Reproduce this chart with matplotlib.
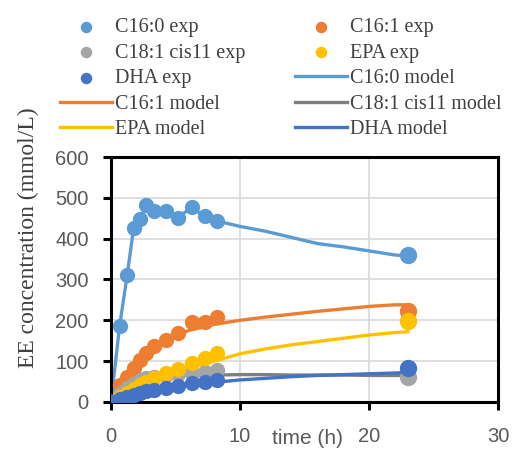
import numpy as np
import matplotlib
matplotlib.use('Agg')
from matplotlib import pyplot as plt

# experimental sampling times (h)
t_exp = [0, 0.67, 1.25, 1.75, 2.25, 2.75, 3.33, 4.25, 5.17, 6.25, 7.25, 8.25, 23]
c160_exp = [0, 187, 310, 425, 448, 483, 468, 468, 450, 478, 455, 443, 360]
c161_exp = [0, 42, 62, 84, 103, 121, 136, 153, 170, 195, 197, 207, 224]
c181_exp = [0, 20, 35, 45, 55, 58, 62, 65, 68, 70, 74, 78, 62]
epa_exp = [0, 12, 22, 32, 42, 50, 58, 70, 80, 95, 108, 120, 198]
dha_exp = [0, 8, 13, 18, 22, 26, 30, 34, 38, 46, 49, 54, 84]

# model curves
t_c160 = [0, 0.67, 1.25, 1.75, 2.25, 2.75, 3.33, 4.25, 5.17, 6.25, 7.25, 8.25,
          10, 12, 14, 16, 18, 20, 22, 23]
c160_mod = [0, 187, 310, 425, 448, 480, 470, 468, 452, 476, 455, 443,
            430, 418, 403, 388, 380, 370, 360, 358]
t_mod = [0, 1, 2, 3, 4, 5, 6, 8, 10, 12, 14, 16, 18, 20, 22, 23]
c161_mod = [0, 50, 90, 120, 145, 162, 175, 190, 200, 208, 215, 222, 228, 234, 238, 238]
c181_mod = [0, 40, 55, 60, 63, 64, 65, 66, 67, 67, 66, 66, 66, 65, 65, 65]
epa_mod = [0, 20, 38, 52, 65, 75, 84, 100, 118, 130, 140, 148, 156, 164, 170, 172]
dha_mod = [0, 12, 20, 27, 32, 37, 41, 48, 54, 58, 62, 65, 67, 69, 71, 72]

c_blue = '#5B9BD5'
c_orange = '#ED7D31'
c_grey = '#A5A5A5'
c_gold = '#FFC000'
c_dblue = '#4472C4'
c_dgrey = '#7F7F7F'

fig = plt.figure(figsize=(5.18, 4.5), dpi=100)
ax = fig.add_axes([0.2143, 0.1067, 0.9614 - 0.2143, 0.6511 - 0.1067])

lw = 2.4
ms = 11
h = {}
h['m160'], = ax.plot(t_c160, c160_mod, color=c_blue, lw=lw, label='C16:0 model')
h['m161'], = ax.plot(t_mod, c161_mod, color=c_orange, lw=lw, label='C16:1 model')
h['m181'], = ax.plot(t_mod, c181_mod, color=c_dgrey, lw=lw, label='C18:1 cis11 model')
h['mepa'], = ax.plot(t_mod, epa_mod, color=c_gold, lw=lw, label='EPA model')
h['mdha'], = ax.plot(t_mod, dha_mod, color=c_dblue, lw=lw, label='DHA model')

for key, y, c, lab in [('e160', c160_exp, c_blue, 'C16:0 exp'),
                       ('e161', c161_exp, c_orange, 'C16:1 exp'),
                       ('e181', c181_exp, c_grey, 'C18:1 cis11 exp'),
                       ('eepa', epa_exp, c_gold, 'EPA exp'),
                       ('edha', dha_exp, c_dblue, 'DHA exp')]:
    h[key] = ax.scatter(t_exp[:-1], y[:-1], s=ms**2, color=c, zorder=3, label=lab, linewidths=0)
    ax.scatter(t_exp[-1:], y[-1:], s=12.5**2, color=c, zorder=3, linewidths=0)

ax.set_xlim(0, 30)
ax.set_ylim(0, 600)
ax.set_xticks([0, 10, 20, 30])
ax.set_yticks(range(0, 601, 100))
ax.grid(True, color='#D9D9D9', lw=1.2)
ax.set_axisbelow(True)
for s in ax.spines.values():
    s.set_linewidth(2.2)
    s.set_color('black')
ax.tick_params(direction='out', length=6, width=2.2, colors='black',
               labelcolor='#595959', labelsize=14.5)
ax.tick_params(axis='x', pad=12)
ax.tick_params(axis='y', pad=10)
for lab in ax.get_xticklabels() + ax.get_yticklabels():
    lab.set_family('Liberation Sans')

ax.set_ylabel('EE concentration (mmol/L)', family='Liberation Serif',
              fontsize=17, color='#404040')
ax.yaxis.set_label_coords(-0.185, 0.67)
fig.text(0.593, 0.005, 'time (h)', family='Liberation Sans', fontsize=15,
         color='#595959', ha='center', va='bottom')

order = ['e160', 'e181', 'edha', 'm161', 'mepa',
         'e161', 'eepa', 'm160', 'm181', 'mdha']
leg = fig.legend([h[k] for k in order], [h[k].get_label() for k in order],
                 ncol=2, loc='upper left', bbox_to_anchor=(0.08, 1.0),
                 frameon=False, prop={'family': 'Liberation Serif', 'size': 14.5},
                 handlelength=2.6, handletextpad=0.15, columnspacing=2.45,
                 labelspacing=0.32, labelcolor='#404040', markerscale=0.75)

fig.savefig('out.png', dpi=100)
